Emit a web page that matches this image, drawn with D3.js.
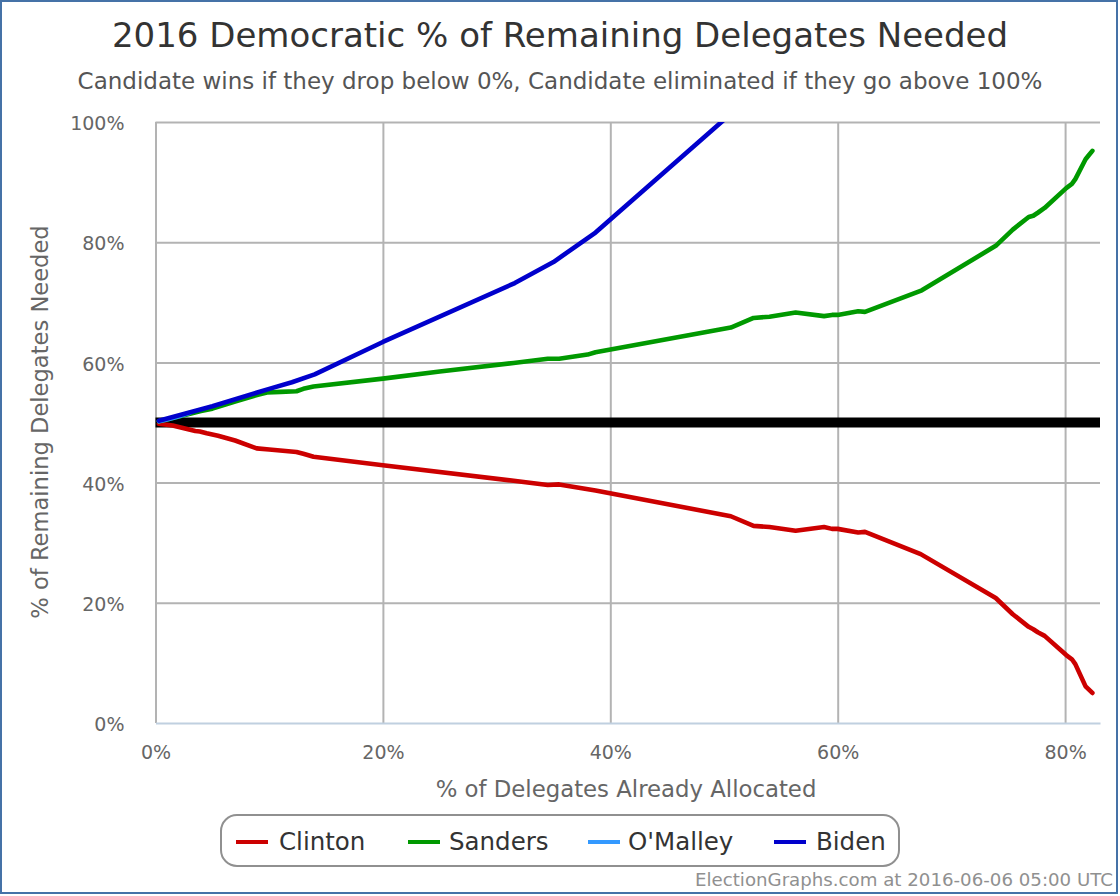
<!DOCTYPE html>
<html>
<head>
<meta charset="utf-8">
<script src="https://cdn.jsdelivr.net/npm/d3@7"></script>
<style>
html, body { margin: 0; padding: 0; background: #fff; }
svg { display: block; }
text { font-family: "DejaVu Sans", sans-serif; }
</style>
</head>
<body>
<svg width="1120" height="896"></svg>
<script>
const clintonX = [0.3, 1.5, 3.5, 3.9, 4.5, 5.5, 7, 8.9, 10, 11.2, 12.4, 13, 13.9, 20, 31.5, 34.5, 35.5, 38.7, 50.6, 52.6, 54, 56.3, 58.8, 59.5, 60, 61.8, 62.4, 67.3, 73.9, 75.4, 76.8, 77.2, 77.6, 78.2, 80.1, 80.6, 80.9, 81.8, 82.4];
const clintonY = [49.8, 49.5, 48.6, 48.5, 48.2, 47.8, 47, 45.7, 45.5, 45.3, 45.1, 44.8, 44.3, 42.9, 40.3, 39.6, 39.7, 38.7, 34.4, 32.8, 32.6, 32, 32.6, 32.3, 32.3, 31.7, 31.8, 28.1, 20.8, 18.1, 16, 15.6, 15.1, 14.5, 11.3, 10.6, 9.8, 6.1, 5];

const sandersX = [0.3, 1, 2.5, 4, 5, 7, 9, 9.8, 11, 12.4, 13, 13.9, 20, 25, 31.5, 34.5, 35.5, 38, 38.7, 50.6, 52.6, 54, 56.3, 58.8, 59.5, 60, 61.8, 62.4, 67.4, 73.9, 75.4, 76.8, 77.2, 77.6, 78.2, 80.1, 80.6, 80.9, 81.8, 82.1, 82.4];
const sandersY = [50.2, 50.5, 51.2, 51.9, 52.3, 53.5, 54.6, 55, 55.1, 55.2, 55.6, 56, 57.3, 58.5, 59.9, 60.6, 60.6, 61.3, 61.7, 65.8, 67.4, 67.6, 68.3, 67.7, 67.9, 67.9, 68.5, 68.4, 72, 79.4, 82.1, 84.2, 84.4, 84.9, 85.7, 89, 89.7, 90.5, 93.8, 94.5, 95.2];

const omalleyX = [0.3, 1, 2, 3];
const omalleyY = [50.2, 50.5, 51, 51.6];

const bidenX = [0.3, 5, 10, 12, 14, 20, 31.6, 35, 38.7, 50.5];
const bidenY = [50.3, 52.7, 55.6, 56.7, 58, 63.4, 73.2, 76.7, 81.6, 101.2];

const candidates = ["Clinton", "Sanders", "O'Malley", "Biden"];
const colors = ["#cc0000", "#009900", "#3399ff", "#0000cc"];
const xTicks = [0, 20, 40, 60, 80];
const yTicks = [0, 20, 40, 60, 80, 100];

const series = [
	d3.zip(clintonX, clintonY),
	d3.zip(sandersX, sandersY),
	d3.zip(omalleyX, omalleyY),
	d3.zip(bidenX, bidenY)
];

const svg = d3.select("svg");
const left = 155.5, right = 1100, top_ = 122, bottom = 723;

const x = d3.scaleLinear().domain([0, 83.07]).range([left, right]);
const y = d3.scaleLinear().domain([0, 100]).range([bottom, top_]);

// frame
svg.append("rect").attr("x", 1).attr("y", 1).attr("width", 1116).attr("height", 892)
	.attr("fill", "#fff").attr("stroke", "#4572a7").attr("stroke-width", 2);

svg.append("text").attr("x", 560).attr("y", 47).attr("text-anchor", "middle")
	.attr("font-size", 34).attr("fill", "#333").text("2016 Democratic % of Remaining Delegates Needed");
svg.append("text").attr("x", 560).attr("y", 89).attr("text-anchor", "middle")
	.attr("font-size", 23).attr("fill", "#555").text("Candidate wins if they drop below 0%, Candidate eliminated if they go above 100%");

// grid
const xGrid = d3.axisBottom(x).tickValues(xTicks).tickSize(bottom - top_).tickFormat("");
svg.append("g").attr("transform", "translate(0," + top_ + ")").call(xGrid)
	.call(g => g.select(".domain").remove())
	.selectAll("line").attr("stroke", "#b3b3b3").attr("stroke-width", 2);
const yGrid = d3.axisLeft(y).tickValues(yTicks.slice(1)).tickSize(right - left).tickFormat("");
svg.append("g").attr("transform", "translate(" + right + ",0)").call(yGrid)
	.call(g => g.select(".domain").remove())
	.selectAll("line").attr("stroke", "#b3b3b3").attr("stroke-width", 2);

// axes
const xAxis = d3.axisBottom(x).tickValues(xTicks).tickSize(0).tickPadding(23).tickFormat(d => d + "%");
const gx = svg.append("g").attr("transform", "translate(0," + bottom + ")").call(xAxis);
gx.select(".domain").attr("stroke", "#c0d0e0").attr("stroke-width", 2);
gx.selectAll("text").attr("font-size", 19).attr("fill", "#666").style("font-family", "DejaVu Sans");

const yAxis = d3.axisLeft(y).tickValues(yTicks).tickSize(0).tickPadding(31).tickFormat(d => d + "%");
const gy = svg.append("g").attr("transform", "translate(" + left + ",0)").call(yAxis);
gy.select(".domain").remove();
gy.selectAll("text").attr("font-size", 19).attr("fill", "#666").attr("dy", "0.4em").style("font-family", "DejaVu Sans");

svg.append("text").attr("x", 626).attr("y", 797).attr("text-anchor", "middle")
	.attr("font-size", 22.8).attr("fill", "#666").text("% of Delegates Already Allocated");
svg.append("text").attr("transform", "translate(48,422) rotate(-90)").attr("text-anchor", "middle")
	.attr("font-size", 22.6).attr("fill", "#666").text("% of Remaining Delegates Needed");

// 50% line
svg.append("line").attr("x1", left).attr("x2", right).attr("y1", y(50)).attr("y2", y(50))
	.attr("stroke", "#000").attr("stroke-width", 10);

// lines, clipped at the plot area
svg.append("clipPath").attr("id", "plot").append("rect")
	.attr("x", left).attr("y", top_).attr("width", right - left).attr("height", bottom - top_);
const line = d3.line().x(d => x(d[0])).y(d => y(d[1]));
svg.append("g").attr("clip-path", "url(#plot)").selectAll("path").data(series).enter().append("path")
	.attr("d", line).attr("fill", "none")
	.attr("stroke", (d, i) => colors[i]).attr("stroke-width", 4.6)
	.attr("stroke-linejoin", "round").attr("stroke-linecap", "round");

// legend
svg.append("rect").attr("x", 221).attr("y", 815).attr("width", 678).attr("height", 51).attr("rx", 16)
	.attr("fill", "#fff").attr("stroke", "#909090").attr("stroke-width", 2);
const legendLine = [236, 408, 588, 774];
const legendText = [279, 449, 628, 816];
const lg = svg.append("g").selectAll("g").data(candidates).enter().append("g");
lg.append("line").attr("x1", (d, i) => legendLine[i]).attr("x2", (d, i) => legendLine[i] + 32)
	.attr("y1", 842).attr("y2", 842).attr("stroke", (d, i) => colors[i]).attr("stroke-width", 4);
lg.append("text").attr("x", (d, i) => legendText[i]).attr("y", 850)
	.attr("font-size", 24.5).attr("fill", "#333").text(d => d);

svg.append("text").attr("x", 1113).attr("y", 886).attr("text-anchor", "end")
	.attr("font-size", 18.2).attr("fill", "#909090").text("ElectionGraphs.com at 2016-06-06 05:00 UTC");
</script>
</body>
</html>
